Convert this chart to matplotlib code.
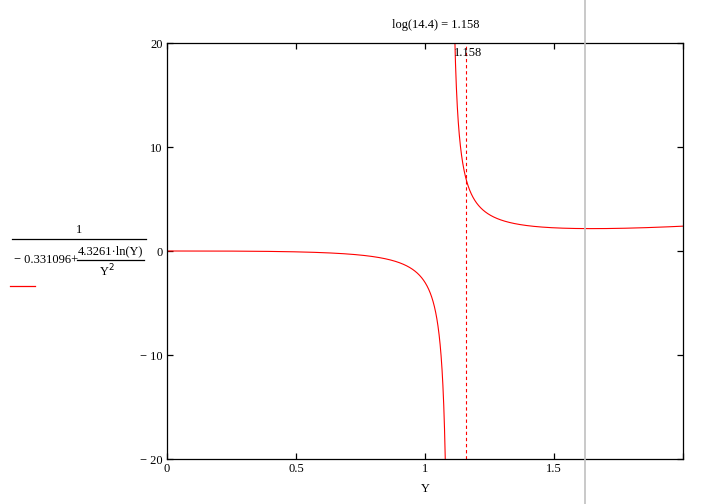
import numpy as np
import matplotlib
matplotlib.use("Agg")
import matplotlib.pyplot as plt
from matplotlib.lines import Line2D

# ---- data (from the plotted expression and labels) ----
coef_const = -0.331096
coef_log = 4.3261
x_marker = 1.158
title_text = "log(14.4) = 1.158"
x_ticks = [0, 0.5, 1, 1.5, 2]
x_tick_labels = ["0", "0.5", "1", "1.5", ""]
y_ticks = [-20, -10, 0, 10, 20]
y_tick_labels = ["\u2212 20", "\u2212 10", "0", "10", "20"]
x_range = (0, 2)
y_range = (-20, 20)

Y = np.linspace(0.001, 2.0, 6000)
f = 1.0 / (coef_const + coef_log * np.log(Y) / Y**2)
f[np.abs(f) > 200] = np.nan

W, H = 701, 504
fig = plt.figure(figsize=(W / 100, H / 100), dpi=100)
plt.rcParams['font.family'] = ['Liberation Serif', 'DejaVu Serif']
FS = 9

def fx(px):
    return px / W

def fy(py):
    return 1 - py / H

left, right, top, bottom = 167, 683, 43, 459
ax = fig.add_axes([fx(left), fy(bottom), (right - left) / W, (bottom - top) / H])
ax.plot(Y, f, color='#ff0000', lw=0.8)
ax.axvline(x_marker, color='#ff0000', lw=0.8, dashes=(3, 2.5))
ax.set_xlim(*x_range)
ax.set_ylim(*y_range)
ax.set_xticks(x_ticks)
ax.set_xticklabels(x_tick_labels, fontsize=FS)
ax.set_yticks(y_ticks)
ax.set_yticklabels(y_tick_labels, fontsize=FS)
ax.tick_params(direction='in', length=4.3, width=0.9, top=True, right=True,
               pad=3, color='black')
for s in ax.spines.values():
    s.set_linewidth(0.9)
ax.set_xlabel("Y", fontsize=FS, labelpad=6)
ax.annotate(f"{x_marker:.3f}", xy=(x_marker, 19.0), xytext=(2, 0),
            textcoords='offset pixels', ha='center', va='center', fontsize=FS)

# title
fig.text(fx(436), fy(25), title_text, ha='center', va='center', fontsize=FS)

# left-hand expression label
fig.text(fx(79), fy(230), "1", ha='center', va='center', fontsize=FS)
fig.add_artist(Line2D([fx(12), fx(146)], [fy(239), fy(239)], color='black', lw=0.9))
fig.text(fx(78), fy(260), "\u2212 0.331096+", ha='right', va='center', fontsize=FS)
fig.text(fx(110), fy(251), "4.3261\u00b7ln(Y)", ha='center', va='center', fontsize=FS)
fig.add_artist(Line2D([fx(77), fx(144)], [fy(259.5), fy(259.5)], color='black', lw=0.9))
fig.text(fx(107), fy(271), "Y$^{2}$", ha='center', va='center', fontsize=FS)
fig.add_artist(Line2D([fx(10), fx(35)], [fy(286), fy(286)], color='#ff0000', lw=0.9))

# gray page line
fig.add_artist(Line2D([fx(584.5), fx(584.5)], [0, 1], color='#c0c0c0', lw=1.2))

fig.savefig("out.png", dpi=100)
